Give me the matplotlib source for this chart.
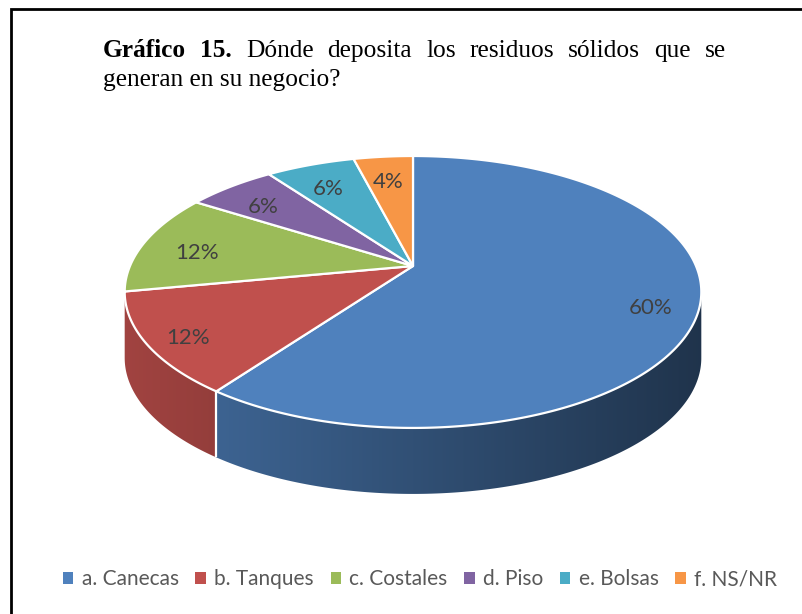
import numpy as np
import matplotlib
matplotlib.use('Agg')
import matplotlib.pyplot as plt
from matplotlib.patches import Polygon, Patch
from matplotlib.colors import to_rgb

plt.rcParams['font.family'] = ['Lato', 'DejaVu Sans']

# data
categories = ['a. Canecas', 'b. Tanques', 'c. Costales', 'd. Piso', 'e. Bolsas', 'f. NS/NR']
values = [60, 12, 12, 6, 6, 4]
pct_labels = ['60%', '12%', '12%', '6%', '6%', '4%']
colors = ['#4F81BD', '#C0504D', '#9BBB59', '#8064A2', '#4BACC6', '#F79646']
title_line1 = 'Gráfico 15. Dónde deposita los residuos sólidos que se'
title_line2 = 'generan en su negocio?'
n_bold = 2  # "Gráfico 15." in bold

W, H = 803, 614
fig = plt.figure(figsize=(W / 100, H / 100), dpi=100)
ax = fig.add_axes([0, 0, 1, 1])
ax.set_xlim(0, W)
ax.set_ylim(H, 0)
ax.axis('off')

# pie geometry (pixels), simple perspective of a tilted disc
CX, CY = 413, 266
A, B, K = 283, 131, -0.191
DEPTH = 66


def proj(theta, r=1.0):
    # theta in degrees, clockwise from the back of the pie
    t = np.radians(theta)
    u = r * np.sin(t)
    v = -r * np.cos(t)
    w = 1 + K * v
    return CX + A * u / w, CY + B * v / w


total = float(sum(values))
bounds = np.concatenate([[0], np.cumsum(values)]) / total * 360
vis0 = np.degrees(np.arccos(K))
vis1 = 360 - vis0

# side wall: polygon per slice, filled with a left-to-right shading
xs = np.arange(CX - 300, CX + 301)
shade = 0.62 - 0.22 * np.clip((xs - CX) / 290.0, -1, 1)
for i, (a0, a1) in enumerate(zip(bounds[:-1], bounds[1:])):
    lo, hi = max(a0, vis0), min(a1, vis1)
    if lo >= hi:
        continue
    ts = np.linspace(lo, hi, int((hi - lo) * 2) + 2)
    top = [proj(t) for t in ts]
    bot = [(x, y + DEPTH) for x, y in top[::-1]]
    wall = Polygon(top + bot, closed=True, facecolor='none', edgecolor='none')
    ax.add_patch(wall)
    base = np.array(to_rgb(colors[i]))
    img = np.clip(shade[None, :, None] * base[None, None, :], 0, 1)
    im = ax.imshow(img, extent=(xs[0], xs[-1], CY + 250, CY - 50), aspect='auto',
                   interpolation='bilinear', zorder=1)
    im.set_clip_path(wall)
for a in bounds:
    if vis0 < a < vis1:
        x, y = proj(a)
        ax.plot([x, x], [y, y + DEPTH], color='white', lw=1.6, solid_capstyle='butt', zorder=2)

# top faces
for i, (a0, a1) in enumerate(zip(bounds[:-1], bounds[1:])):
    ts = np.linspace(a0, a1, int(a1 - a0) * 2 + 2)
    pts = [(CX, CY)] + [proj(t) for t in ts]
    ax.add_patch(Polygon(pts, closed=True, facecolor=colors[i], edgecolor='white',
                         lw=1.6, joinstyle='round', zorder=3))

# data labels
label_r = [0.84, 0.86, 0.8, 0.8, 0.8, 0.8]
for i, (a0, a1) in enumerate(zip(bounds[:-1], bounds[1:])):
    x, y = proj((a0 + a1) / 2, label_r[i])
    ax.text(x, y + 6, pct_labels[i], ha='center', va='center', fontsize=16,
            color='#404040', zorder=4)

ax.set_xlim(0, W)
ax.set_ylim(H, 0)

# title, first line justified
fig.canvas.draw()
renderer = fig.canvas.get_renderer()
words = title_line1.split()
x_left, x_right, y1, y2 = 103, 726, 57, 86
tfont = dict(family='Liberation Serif', fontsize=18.3, color='black')
arts = []
for j, wd in enumerate(words):
    arts.append(ax.text(0, y1, wd, va='baseline', ha='left',
                        fontweight='bold' if j < n_bold else 'normal', **tfont))
widths = [t.get_window_extent(renderer).width for t in arts]
gap = (x_right - x_left - sum(widths)) / (len(words) - 1)
x = x_left
for t, wdt in zip(arts, widths):
    t.set_x(x)
    x += wdt + gap
ax.text(x_left, y2, title_line2, va='baseline', ha='left', **tfont)

# legend
handles = [Patch(facecolor=c, edgecolor='none') for c in colors]
fig.legend(handles, categories, loc='center', bbox_to_anchor=(420 / W, 1 - 579 / H),
           ncol=6, frameon=False, fontsize=15, labelcolor='#595959',
           handlelength=0.5, handleheight=0.5, handletextpad=0.4, columnspacing=0.8)

# outer frame (left and top edges)
ax.plot([11, 11, W], [H, 9, 9], color='black', lw=2, solid_joinstyle='miter')

fig.savefig('out.png', dpi=100)
